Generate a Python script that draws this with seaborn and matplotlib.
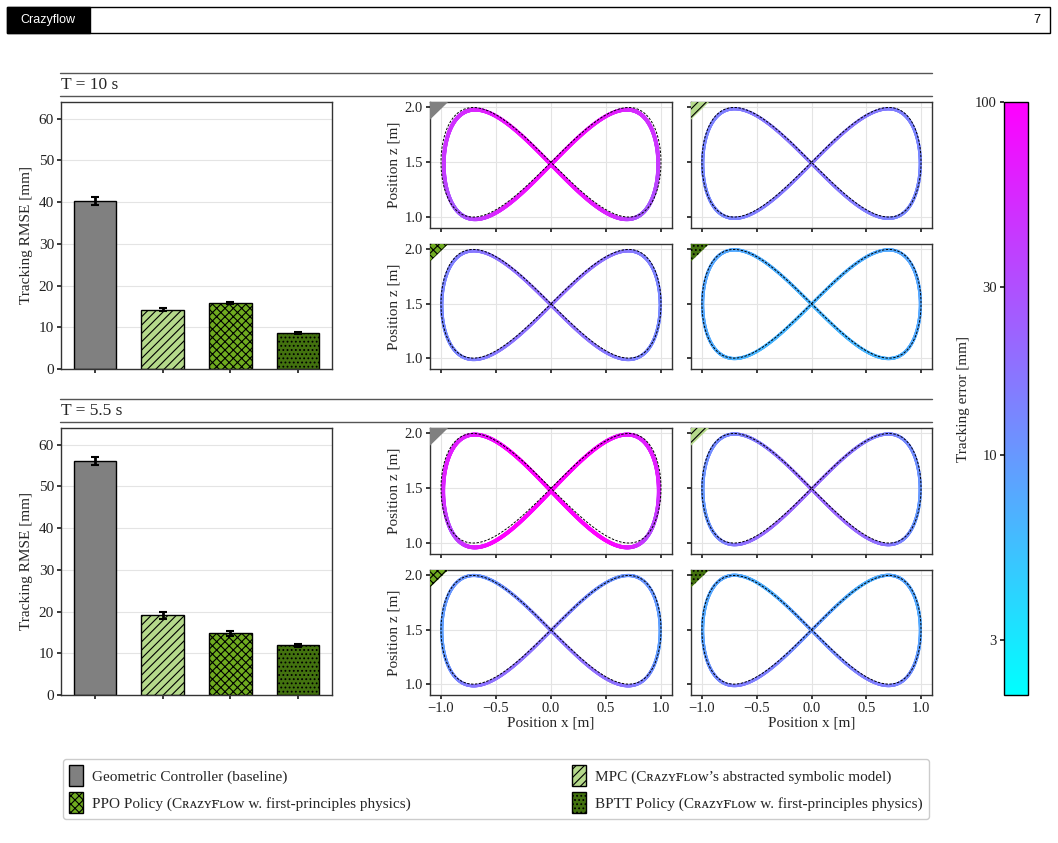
import numpy as np
import pandas as pd
import matplotlib
matplotlib.use("Agg")
import matplotlib.pyplot as plt
import seaborn as sns
from matplotlib.collections import LineCollection
from matplotlib.colors import LogNorm
from matplotlib.cm import ScalarMappable
from matplotlib.patches import Patch, Polygon, Rectangle
from matplotlib.lines import Line2D
from matplotlib.ticker import FixedLocator, FixedFormatter, NullLocator

sns.set_theme(style="whitegrid", rc={
    "axes.edgecolor": "#333333",
    "axes.linewidth": 1.0,
    "grid.color": "#e4e4e4",
    "grid.linewidth": 0.8,
    "xtick.bottom": True,
    "ytick.left": True,
    "xtick.major.size": 3,
    "ytick.major.size": 3,
    "xtick.color": "#222222",
    "ytick.color": "#222222",
    "hatch.linewidth": 0.8,
})
plt.rcParams["font.family"] = ["Liberation Serif", "DejaVu Serif", "DejaVu Sans"]

# ---- data ----
methods = ["Geometric", "MPC", "PPO", "BPTT"]
legend_labels = [
    "Geometric Controller (baseline)",
    "MPC (Cʀᴀᴢʏꜰʟᴏᴡ\u2019s abstracted symbolic model)",
    "PPO Policy (Cʀᴀᴢʏꜰʟᴏᴡ w. first-principles physics)",
    "BPTT Policy (Cʀᴀᴢʏꜰʟᴏᴡ w. first-principles physics)",
]
bar_colors = ["#808080", "#b5d98b", "#6fab1f", "#43720f"]
bar_hatches = ["", "////", "xxxx", "...."]

durations = ["T = 10 s", "T = 5.5 s"]
rmse_10 = [40.2, 14.2, 15.9, 8.6]
rmse_10_err = [1.0, 0.4, 0.2, 0.15]
rmse_55 = [56.1, 19.1, 14.8, 11.9]
rmse_55_err = [1.0, 0.8, 0.6, 0.4]

# reference figure-eight: x = A_x sin(s), z = c_z + A_z sin(2s)
ref_amp_x = 1.0
ref_amp_z = 0.5
ref_center_z = 1.5

# tracked trajectory deviation per panel (Geometric, MPC, PPO, BPTT)
lag_10 = [0.045, 0.003, 0.004, 0.001]
xgain_10 = [0.975, 0.993, 0.993, 0.994]
zgain_10 = [1.0, 1.0, 1.0, 1.0]
zshift_10 = [-0.02, -0.012, -0.013, -0.004]
yoff_10 = [0.025, 0.006, 0.006, 0.004]   # out-of-plane offset [m]

lag_55 = [0.07, 0.008, 0.006, 0.003]
xgain_55 = [0.98, 0.992, 0.993, 0.994]
zgain_55 = [1.03, 1.01, 1.015, 1.015]
zshift_55 = [-0.025, -0.01, -0.008, -0.006]
yoff_55 = [0.03, 0.006, 0.005, 0.004]

err_min, err_max = 2.1, 100
cbar_ticks = [3, 10, 30, 100]

# ---- layout helpers (pixel coordinates of the page) ----
W, H = 1058, 843
fig = plt.figure(figsize=(W / 100, H / 100), dpi=100)


def rect(x0, y0, x1, y1):
    return [x0 / W, 1 - y1 / H, (x1 - x0) / W, (y1 - y0) / H]


def fx(x):
    return x / W


def fy(y):
    return 1 - y / H


norm = LogNorm(vmin=err_min, vmax=err_max)
cmap = plt.get_cmap("cool")
s = np.linspace(0, 2 * np.pi, 1200)
x_ref = ref_amp_x * np.sin(s)
z_ref = ref_center_z + ref_amp_z * np.sin(2 * s)

# page header
fig.add_artist(Rectangle((fx(7), fy(33)), fx(1043), (33 - 7) / H, transform=fig.transFigure,
                         facecolor="white", edgecolor="black", lw=1))
fig.add_artist(Rectangle((fx(7), fy(33)), fx(83), (33 - 7) / H, transform=fig.transFigure,
                         facecolor="black", edgecolor="black", lw=1))
fig.text(fx(20), fy(20), "Crazyflow", color="white", fontsize=9, va="center",
         family=["Liberation Sans", "DejaVu Sans"])
fig.text(fx(1040), fy(20), "7", color="black", fontsize=9, va="center", ha="right",
         family=["Liberation Sans", "DejaVu Sans"])

sections = [
    (durations[0], rmse_10, rmse_10_err, lag_10, xgain_10, zgain_10, zshift_10, yoff_10),
    (durations[1], rmse_55, rmse_55_err, lag_55, xgain_55, zgain_55, zshift_55, yoff_55),
]

for k, (title, rmse, rmse_err, lags, xg, zg, zsh, yoff) in enumerate(sections):
    off = 326 * k
    # section rules and title
    for yy in (73 + off, 96 + off):
        fig.add_artist(Line2D([fx(60), fx(932)], [fy(yy), fy(yy)], transform=fig.transFigure,
                              color="#555555", lw=1))
    fig.text(fx(61), fy(85 + off), title, fontsize=12.5, va="center")

    # bar chart
    ax = fig.add_axes(rect(61, 102 + off, 332, 369 + off))
    df = pd.DataFrame({"method": methods, "rmse": rmse})
    sns.barplot(data=df, x="method", y="rmse", hue="method", palette=bar_colors,
                legend=False, ax=ax, width=0.63, edgecolor="black", linewidth=1,
                saturation=1, errorbar=None)
    for patch, hatch in zip(ax.patches, bar_hatches):
        patch.set_hatch(hatch)
    ax.errorbar(range(len(methods)), rmse, yerr=rmse_err, fmt="none", ecolor="black",
                elinewidth=2, capsize=3, capthick=1.5, zorder=5)
    ax.set_xlim(-0.5, 3.5)
    ax.set_ylim(0, 64)
    ax.set_yticks([0, 10, 20, 30, 40, 50, 60])
    ax.set_xticks(range(4))
    ax.set_xticklabels([])
    ax.set_xlabel("")
    ax.set_ylabel("Tracking RMSE [mm]", fontsize=11)
    ax.tick_params(labelsize=11, pad=2)

    # trajectory panels
    rows = [(102 + off, 228 + off), (244 + off, 369 + off)]
    cols = [(430, 672), (691, 932)]
    for i in range(4):
        r, c = divmod(i, 2)
        tax = fig.add_axes(rect(cols[c][0], rows[r][0], cols[c][1], rows[r][1]))
        x_tr = xg[i] * ref_amp_x * np.sin(s - lags[i])
        z_tr = ref_center_z + zsh[i] + zg[i] * ref_amp_z * np.sin(2 * (s - lags[i]))
        dist = np.sqrt((x_tr - x_ref) ** 2 + (z_tr - z_ref) ** 2 + yoff[i] ** 2)
        err = np.clip(dist * 1000, err_min, err_max)
        pts = np.column_stack([x_tr, z_tr]).reshape(-1, 1, 2)
        segs = np.concatenate([pts[:-1], pts[1:]], axis=1)
        lc = LineCollection(segs, cmap=cmap, norm=norm, linewidths=2.8 if i == 0 else 2.3,
                            capstyle="round", zorder=3)
        lc.set_array(err[:-1])
        tax.add_collection(lc)
        sns.lineplot(x=x_ref, y=z_ref, sort=False, estimator=None, ax=tax, color="black",
                     lw=0.7, dashes=False, zorder=4).lines[-1].set_dashes((2.5, 1.5))
        tax.add_patch(Polygon([(0, 1), (0.075, 1), (0, 0.86)], closed=True,
                              transform=tax.transAxes, facecolor=bar_colors[i],
                              hatch=bar_hatches[i], edgecolor="black", lw=0, zorder=6))
        tax.set_xlim(-1.1, 1.1)
        tax.set_ylim(0.9, 2.05)
        tax.set_xticks([-1.0, -0.5, 0.0, 0.5, 1.0])
        tax.set_yticks([1.0, 1.5, 2.0])
        tax.tick_params(labelsize=10.5, pad=2)
        tax.set_xlabel("")
        tax.set_ylabel("")
        if c == 0:
            tax.set_ylabel("Position z [m]", fontsize=11, labelpad=3)
        else:
            tax.set_yticklabels([])
        if k == 1 and r == 1:
            tax.set_xlabel("Position x [m]", fontsize=11, labelpad=1)
        else:
            tax.set_xticklabels([])

# colorbar
cax = fig.add_axes(rect(1004, 102, 1028, 695))
cb = fig.colorbar(ScalarMappable(norm=norm, cmap=cmap), cax=cax)
cb.outline.set_edgecolor("black")
cax.yaxis.set_ticks_position("left")
cax.yaxis.set_label_position("left")
cax.yaxis.set_major_locator(FixedLocator(cbar_ticks))
cax.yaxis.set_major_formatter(FixedFormatter([str(t) for t in cbar_ticks]))
cax.yaxis.set_minor_locator(NullLocator())
cax.tick_params(labelsize=10.5, pad=2)
cb.set_label("Tracking error [mm]", fontsize=11, labelpad=4)

# legend
handles = [Patch(facecolor=bar_colors[i], hatch=bar_hatches[i], edgecolor="black", lw=1)
           for i in range(4)]
order = [0, 2, 1, 3]
fig.legend([handles[i] for i in order], [legend_labels[i] for i in order],
           loc="center", ncol=2, mode="expand",
           bbox_to_anchor=(fx(60), fy(820), fx(872), (820 - 758) / H),
           bbox_transform=fig.transFigure, fontsize=11, handlelength=0.9,
           handleheight=1.8, handletextpad=0.6, borderaxespad=0.2, labelspacing=0.35,
           frameon=True, edgecolor="#cccccc", fancybox=True, framealpha=1)

fig.savefig("out.png", dpi=100)
